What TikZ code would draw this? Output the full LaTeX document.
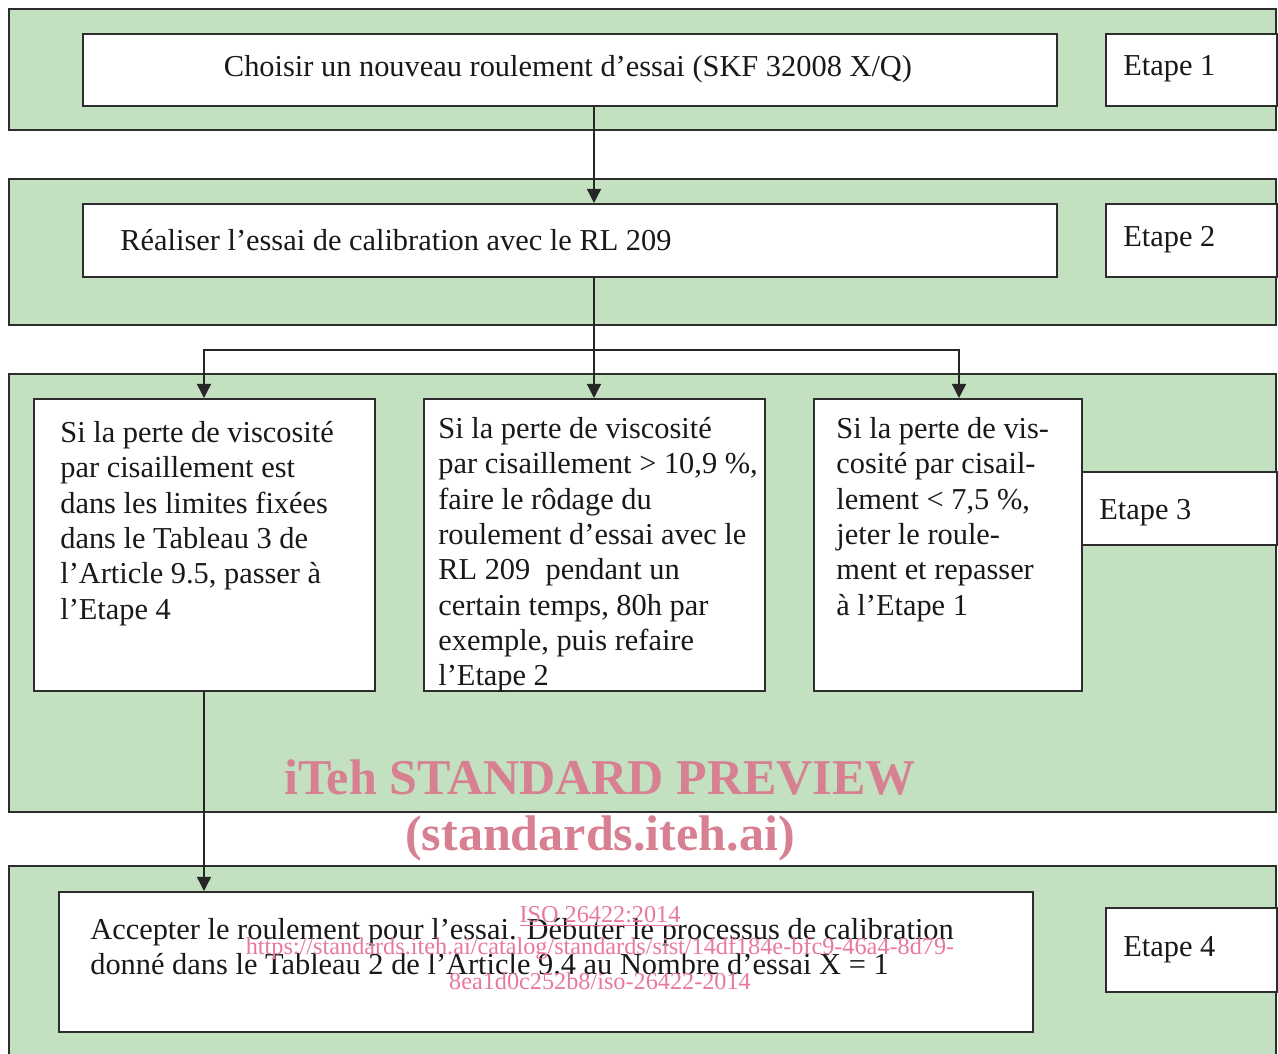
\documentclass[tikz,border=0pt]{standalone}
\usepackage{fontspec}
\setmainfont{Liberation Serif}
\usetikzlibrary{arrows.meta}
\definecolor{bandgreen}{RGB}{195,224,192}
\definecolor{boxline}{RGB}{45,45,45}
\definecolor{wmpink}{RGB}{214,128,145}
\definecolor{wmlight}{RGB}{232,120,160}
\tikzset{
  band/.style={draw=boxline, line width=1.1pt, fill=bandgreen},
  wbox/.style={draw=boxline, line width=1.1pt, fill=white, rectangle, inner sep=0pt, anchor=north west},
  btext/.style={anchor=north west, inner sep=0pt, align=left, font=\fontsize{17.3}{20.1}\selectfont, text=black!90},
  conn/.style={draw=black!85, line width=0.8pt},
  arr/.style={conn, -{Triangle[width=8pt,length=8pt]}},
  wmbig/.style={text=wmpink, font=\fontsize{28.5}{30}\selectfont\bfseries},
  wmsmall/.style={text=wmlight, font=\fontsize{13.8}{14}\selectfont, inner sep=0pt},
}
\begin{document}
\begin{tikzpicture}[x=0.02cm,y=-0.02cm]
\useasboundingbox (0,0) rectangle (1278,1054);
% bands
\path[band] (9,9) rectangle (1276,130);
\path[band] (9,179) rectangle (1276,325);
\path[band] (9,374) rectangle (1276,812);
\path[band] (9,866) rectangle (1276,1060);
% step 1
\node[wbox, minimum width=974*0.02cm, minimum height=72*0.02cm] (b1) at (82,33) {};
\node[font=\fontsize{17.3}{20.1}\selectfont, text=black!90] (t1) at (568,69) {Choisir un nouveau roulement d’essai (SKF 32008 X/Q)};
\node[wbox, minimum width=171*0.02cm, minimum height=72*0.02cm] (e1) at (1105,33) {};
\node[btext, anchor=west] (e1t) at (1123,69) {Etape 1};
% step 2
\node[wbox, minimum width=974*0.02cm, minimum height=73*0.02cm] (b2) at (82,203) {};
\node[btext, anchor=west] (t2) at (120,240) {Réaliser l’essai de calibration avec le RL 209};
\node[wbox, minimum width=171*0.02cm, minimum height=73*0.02cm] (e2) at (1105,203) {};
\node[btext, anchor=west] (e2t) at (1123,240) {Etape 2};
% step 3
\node[wbox, minimum width=341*0.02cm, minimum height=292*0.02cm] (ba) at (33,398) {};
\node[btext] (ta) at (60,421) {Si la perte de viscosité\\par cisaillement est\\dans les limites fixées\\dans le Tableau 3 de\\l’Article 9.5, passer à\\l’Etape 4};
\node[wbox, minimum width=341*0.02cm, minimum height=292*0.02cm] (bb) at (423,398) {};
\node[btext] (tb) at (438,417) {Si la perte de viscosité\\par cisaillement > 10,9 \%,\\faire le rôdage du\\roulement d’essai avec le\\RL 209\ \ pendant un\\certain temps, 80h par\\exemple, puis refaire\\l’Etape 2};
\node[wbox, minimum width=268*0.02cm, minimum height=292*0.02cm] (bc) at (813,398) {};
\node[btext] (tc) at (836,417) {Si la perte de vis-\\cosité par cisail-\\lement < 7,5 \%,\\jeter le roule-\\ment et repasser\\à l’Etape 1};
\node[wbox, minimum width=195*0.02cm, minimum height=73*0.02cm] (e3) at (1081,471) {};
\node[btext, anchor=west] (e3t) at (1099,513) {Etape 3};
% step 4
\node[wbox, minimum width=974*0.02cm, minimum height=140*0.02cm] (bd) at (58,891) {};
\node[btext] (td) at (90,918) {Accepter le roulement pour l’essai. Débuter le processus de calibration\\donné dans le Tableau 2 de l’Article 9.4 au Nombre d’essai X = 1};
\node[wbox, minimum width=171*0.02cm, minimum height=84*0.02cm] (e4) at (1105,907) {};
\node[btext, anchor=west] (e4t) at (1123,950) {Etape 4};
% connectors
\coordinate (j1) at (594,350);
\coordinate (jl) at (204,350);
\coordinate (jr) at (959,350);
\draw[arr] (b1.south -| 594,0) -- (b2.north -| 594,0);
\draw[conn] (b2.south -| 594,0) -- (j1);
\draw[arr] (j1) -- (bb.north -| 594,0);
\draw[arr] (j1) -- (jl) -- (ba.north -| 204,0);
\draw[arr] (j1) -- (jr) -- (bc.north -| 959,0);
\draw[arr] (ba.south -| 204,0) -- (bd.north -| 204,0);
% watermark
\node[wmbig] (w1) at (600,778) {iTeh STANDARD PREVIEW};
\node[wmbig] (w2) at (600,838) {(standards.iteh.ai)};
\node[wmsmall] (w3) at (600,916) {\underline{ISO 26422:2014}};
\node[wmsmall] (w4) at (600,949) {https://standards.iteh.ai/catalog/standards/sist/14df184e-bfc9-46a4-8d79-};
\node[wmsmall] (w5) at (600,981) {8ea1d0c252b8/iso-26422-2014};
\end{tikzpicture}
\end{document}
